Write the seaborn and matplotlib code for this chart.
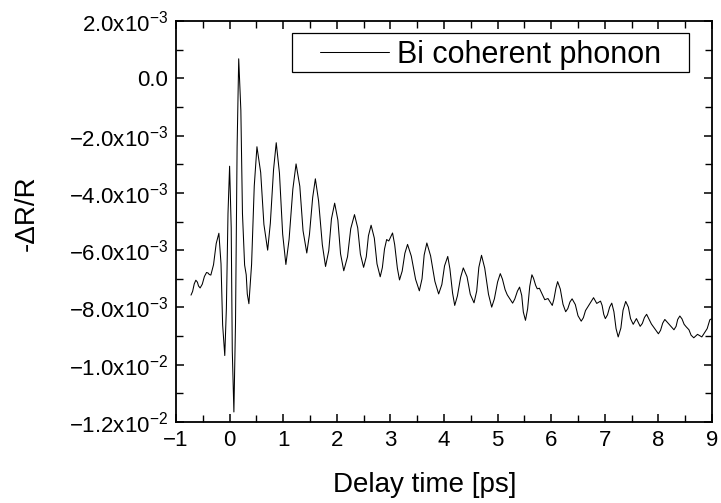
import numpy as np
import pandas as pd
import matplotlib
matplotlib.use("Agg")
import matplotlib.pyplot as plt
from matplotlib.ticker import MultipleLocator, FuncFormatter
from matplotlib.patches import Rectangle
import seaborn as sns

# ---- data (delay in ps, signal in units of 1e-3) ----
# turning points of the trace
delay_ps = [-0.72, -0.63, -0.55, -0.43, -0.35, -0.20, -0.09, 0.00, 0.08, 0.17,
            0.28, 0.36, 0.51, 0.71, 0.87, 1.05, 1.24, 1.44, 1.60, 1.79,
            1.96, 2.13, 2.33, 2.50, 2.64, 2.81, 2.93, 2.97, 3.04, 3.17,
            3.32, 3.54, 3.68, 3.90, 4.07, 4.20, 4.36, 4.56, 4.70, 4.89,
            5.05, 5.18, 5.28, 5.41, 5.52, 5.64, 5.74, 5.78, 5.88, 5.94,
            6.02, 6.12, 6.27, 6.39, 6.56, 6.68, 6.79, 6.85, 6.92, 7.01,
            7.13, 7.25, 7.39, 7.53, 7.59, 7.66, 7.78, 7.87, 8.00, 8.12,
            8.19, 8.29, 8.40, 8.52, 8.66, 8.73, 8.81, 8.91, 8.96, 9.00]
signal_e3 = [-7.57, -7.05, -7.32, -6.78, -6.87, -5.41, -9.68, -3.07, -11.65, 0.68,
             -6.52, -7.87, -2.39, -6.00, -2.25, -6.50, -2.99, -6.10, -3.51, -6.57,
             -4.36, -6.72, -4.76, -6.60, -5.13, -6.93, -5.63, -5.68, -5.40, -7.04,
             -5.80, -7.42, -5.75, -7.53, -6.22, -7.93, -6.62, -7.84, -6.18, -7.99,
             -6.82, -7.56, -7.85, -7.29, -8.45, -6.86, -7.35, -7.33, -7.73, -7.69,
             -7.93, -7.10, -8.15, -7.70, -8.48, -7.99, -7.66, -7.86, -7.78, -8.39,
             -7.85, -9.03, -7.79, -8.59, -8.39, -8.66, -8.24, -8.58, -8.92, -8.42,
             -8.57, -8.78, -8.30, -8.68, -9.06, -8.94, -9.03, -8.74, -8.43, -8.39]
# points read on the flanks between turning points
flank_ps = [-0.69, -0.66, -0.60, -0.58, -0.51, -0.47, -0.40, -0.38, -0.30, -0.25,
            -0.16, -0.13, -0.06, -0.03, 0.03, 0.05, 0.11, 0.14, 0.21, 0.24,
            0.31, 0.33, 0.41, 0.46, 0.58, 0.64, 0.76, 0.82, 0.93, 0.99,
            1.11, 1.18, 1.31, 1.37, 1.49, 1.55, 1.66, 1.73, 1.85, 1.90,
            2.02, 2.07, 2.20, 2.26, 2.39, 2.44, 2.55, 2.59, 2.70, 2.75,
            2.85, 2.89, 3.08, 3.13, 3.22, 3.27, 3.39, 3.47, 3.59, 3.63,
            3.75, 3.83, 3.96, 4.01, 4.11, 4.16, 4.25, 4.31, 4.43, 4.49,
            4.61, 4.65, 4.76, 4.83, 4.94, 5.00, 5.09, 5.14, 5.32, 5.37,
            5.45, 5.48, 5.56, 5.60, 5.67, 5.71, 6.05, 6.09, 6.17, 6.22,
            6.31, 6.35, 6.45, 6.50, 6.60, 6.64, 6.95, 6.98, 7.05, 7.09,
            7.17, 7.21, 7.30, 7.34, 7.44, 7.48, 7.70, 7.74, 8.04, 8.08,
            8.33, 8.36, 8.44, 8.48, 8.57, 8.61]
flank_e3 = [-7.44, -7.18, -7.12, -7.25, -7.19, -6.92, -6.80, -6.85, -6.51, -5.77,
            -6.48, -8.61, -8.03, -4.72, -5.22, -9.51, -8.57, -2.40, -1.12, -4.72,
            -6.86, -7.53, -6.50, -3.76, -3.29, -5.10, -5.06, -3.19, -3.31, -5.44,
            -5.62, -3.87, -3.77, -5.32, -5.45, -4.16, -4.28, -5.81, -6.02, -4.91,
            -4.95, -6.13, -6.23, -5.25, -5.22, -6.14, -6.23, -5.50, -5.58, -6.48,
            -6.61, -5.96, -5.81, -6.63, -6.73, -6.11, -6.21, -7.02, -7.00, -6.17,
            -6.20, -7.09, -7.20, -6.55, -6.65, -7.50, -7.60, -6.95, -6.93, -7.54,
            -7.43, -6.60, -6.63, -7.54, -7.70, -7.11, -7.01, -7.38, -7.71, -7.43,
            -7.58, -8.16, -8.05, -7.26, -6.98, -7.23, -7.72, -7.31, -7.36, -7.89,
            -8.04, -7.81, -7.90, -8.29, -8.36, -8.11, -7.93, -8.24, -8.26, -7.99,
            -8.15, -8.74, -8.72, -8.10, -7.99, -8.39, -8.56, -8.35, -8.80, -8.55,
            -8.66, -8.42, -8.40, -8.59, -8.78, -8.97]
series_label = "Bi coherent phonon"
x_ticks = [-1, 0, 1, 2, 3, 4, 5, 6, 7, 8, 9]
y_ticks = [2e-3, 0.0, -2e-3, -4e-3, -6e-3, -8e-3, -1e-2, -1.2e-2]

df = pd.DataFrame({"delay": delay_ps + flank_ps,
                   "signal": np.array(signal_e3 + flank_e3) * 1e-3})
df = df.sort_values("delay").reset_index(drop=True)

sns.set_theme(style="ticks")
plt.rcParams["font.family"] = ["Liberation Sans", "DejaVu Sans"]
plt.rcParams["mathtext.fontset"] = "custom"
plt.rcParams["mathtext.rm"] = "Liberation Sans"
plt.rcParams["mathtext.it"] = "Liberation Sans:italic"
plt.rcParams["mathtext.bf"] = "Liberation Sans:bold"
for k in ["text.color", "axes.labelcolor", "xtick.color", "ytick.color",
          "axes.edgecolor"]:
    plt.rcParams[k] = "black"

fig = plt.figure(figsize=(7.21, 5.03), dpi=100)
ax = fig.add_axes([176 / 721, 1 - 422 / 503, 536 / 721, 401 / 503])

sns.lineplot(data=df, x="delay", y="signal", ax=ax, color="black",
             linewidth=0.75, estimator=None, sort=False, label=series_label)

ax.set_xlim(-1, 9)
ax.set_ylim(-1.2e-2, 2.0e-3)
ax.set_xticks(x_ticks)
ax.set_yticks(y_ticks)
ax.xaxis.set_minor_locator(MultipleLocator(0.5))
ax.yaxis.set_minor_locator(MultipleLocator(1e-3))


def sci_fmt(v, pos):
    if abs(v) < 1e-12:
        return "0.0"
    exp = int(np.floor(np.log10(abs(v)) + 1e-9))
    mant = abs(v) / 10 ** exp
    sign = "\u2212" if v < 0 else ""
    return f"{sign}{mant:.1f}x10$^{{{exp}}}$"


ax.yaxis.set_major_formatter(FuncFormatter(sci_fmt))
ax.xaxis.set_major_formatter(FuncFormatter(lambda v, p: f"{v:.0f}".replace("-", "\u2212")))

for s in ax.spines.values():
    s.set_visible(True)
    s.set_linewidth(1.3)
    s.set_color("black")

ax.tick_params(which="both", direction="in", top=True, right=True, color="black")
ax.tick_params(which="major", length=6, width=1.1, labelsize=16, pad=6,
               labelcolor="black")
ax.tick_params(which="minor", length=5, width=1.0)

ax.set_xlabel("Delay time [ps]", fontsize=20, color="black")
ax.set_ylabel("-\u0394R/R", fontsize=20, color="black")
ax.xaxis.set_label_coords(0.465, -0.125)
ax.yaxis.set_label_coords(-0.255, 0.52)

# legend entry (frameless) with a separate square frame around it
leg = ax.legend(loc="center left", bbox_to_anchor=((320 - 176) / 536, (422 - 55) / 401),
                borderaxespad=0, fontsize=22, frameon=False,
                handlelength=2.25, handletextpad=0.27, borderpad=0.0)
for t in leg.get_texts():
    t.set_color("black")
ax.add_patch(Rectangle(((292 - 176) / 536, (422 - 72) / 401), 397 / 536, 39 / 401,
                       transform=ax.transAxes, facecolor="white", edgecolor="black",
                       linewidth=0.9, zorder=4))
leg.set_zorder(5)

fig.savefig("out.png", dpi=100)
